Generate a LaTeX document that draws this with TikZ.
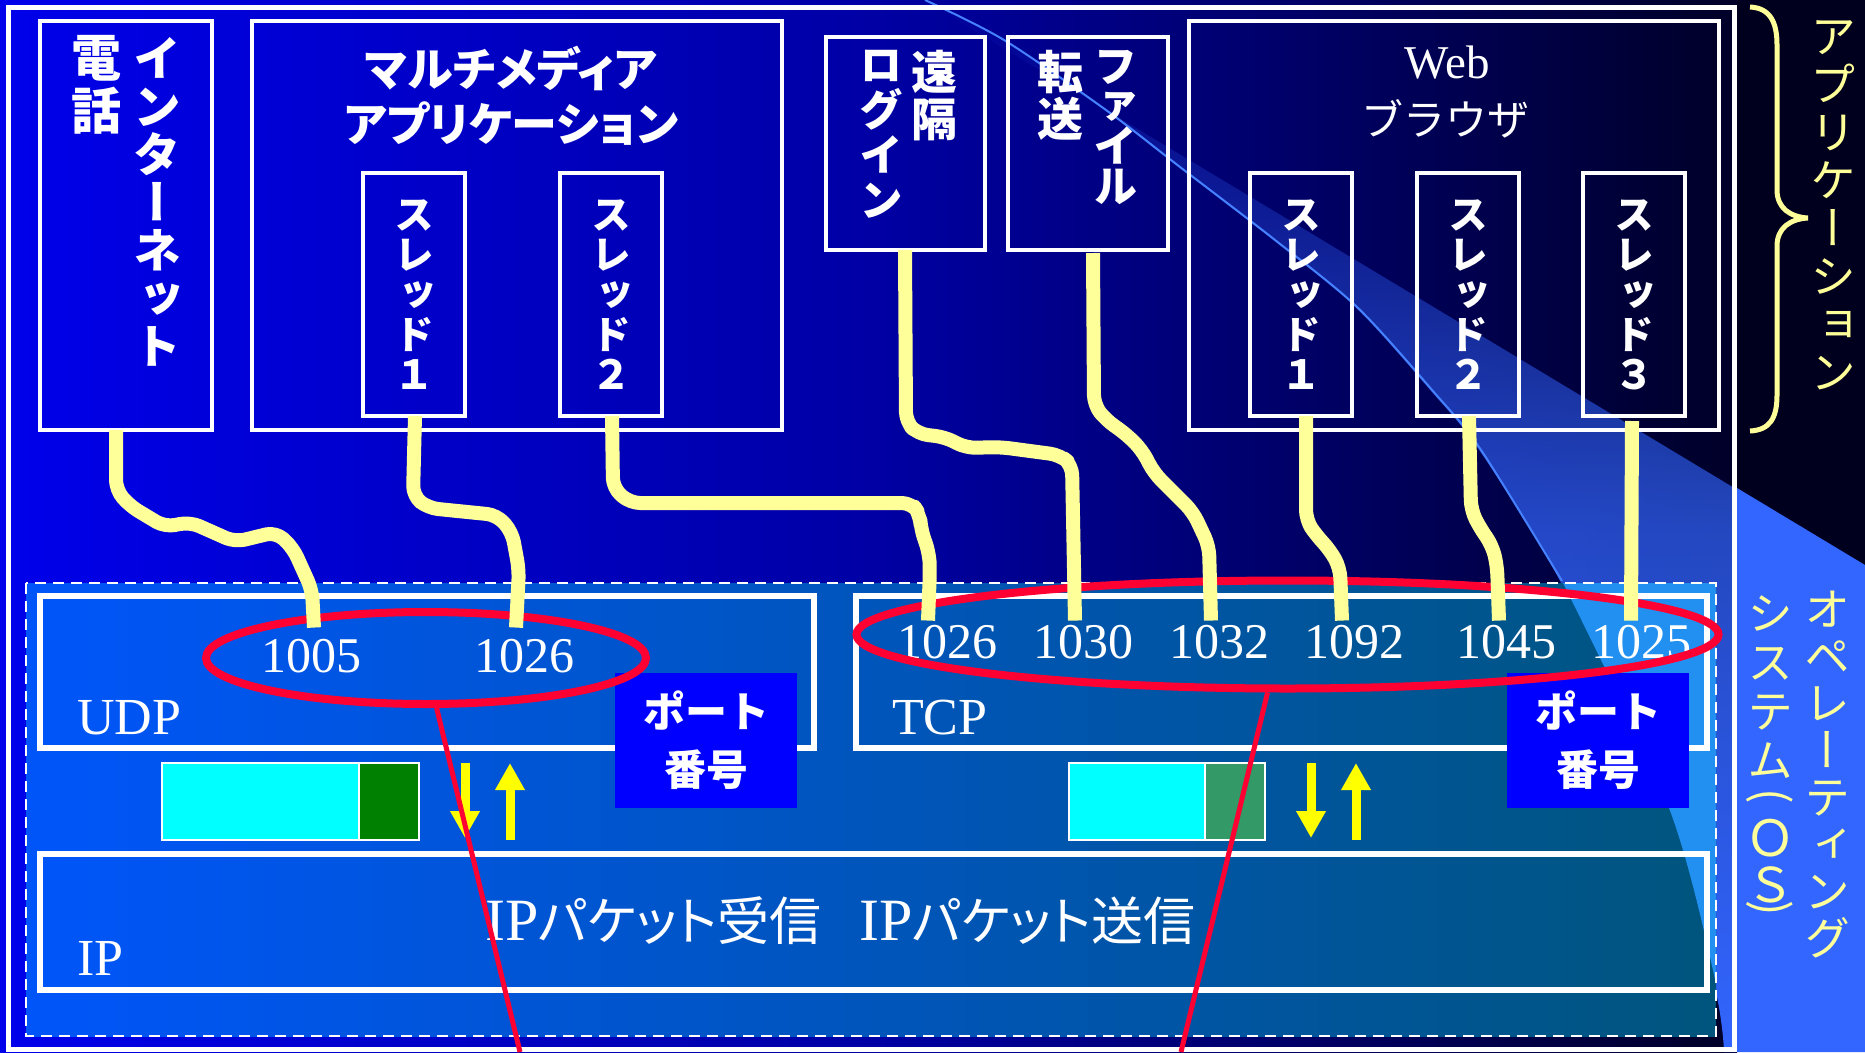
\documentclass[tikz,border=0pt]{standalone}
\usepackage{fontspec}
\usepackage{graphicx}
\setmainfont{Liberation Serif}
\newfontfamily\jp{Noto Sans CJK JP}
\newfontfamily\jpv{Noto Sans CJK JP}[RawFeature=+vert]
\newfontfamily\jpp{Noto Sans CJK JP}[RawFeature=+palt]
\usetikzlibrary{arrows.meta,shapes.geometric,fadings}
\definecolor{bgL}{RGB}{0,0,235}
\definecolor{bgM}{RGB}{0,0,165}
\definecolor{bgR}{RGB}{0,0,40}
\definecolor{rcol}{RGB}{0,0,30}
\definecolor{swc}{RGB}{51,102,255}
\definecolor{swl}{RGB}{70,130,255}
\definecolor{osL}{RGB}{0,85,250}
\definecolor{osR}{RGB}{0,85,125}
\definecolor{osS}{RGB}{34,144,240}
\definecolor{pyel}{RGB}{255,255,153}
\definecolor{byel}{RGB}{255,255,0}
\definecolor{redc}{RGB}{255,0,51}
\definecolor{portc}{RGB}{0,0,255}
\definecolor{pcyan}{RGB}{0,255,255}
\definecolor{dgreen}{RGB}{0,128,0}
\definecolor{sgreen}{RGB}{51,153,102}
\tikzfading[name=swfade, top color=transparent!100, bottom color=transparent!0, middle color=transparent!30]
\begin{document}
\begin{tikzpicture}[x=1pt,y=-1pt,
  box/.style={draw=white, line width=3.5pt, inner sep=0pt, outer sep=0pt},
  bigbox/.style={draw=white, line width=5.5pt, inner sep=0pt, outer sep=0pt},
  vt/.style={align=center, inner sep=0pt, anchor=north, text=white,
    execute at begin node={\lineskiplimit=-1000pt\relax}},
  num/.style={anchor=base, inner sep=0pt, text=white, font=\fontsize{50}{50}\selectfont},
  lbl/.style={anchor=base west, inner sep=0pt, text=white, font=\fontsize{52}{52}\selectfont},
  portbox/.style={fill=portc, minimum width=182pt, minimum height=135pt, align=center,
    inner sep=0pt, text=white, font=\jp\bfseries\fontsize{42}{58}\selectfont},
  pkt/.style={draw=white, line width=2pt, inner sep=0pt, outer sep=0pt, minimum height=77pt},
  yarrow/.style={draw=byel, line width=9pt, -{Triangle[length=27pt,width=28pt]}},
  yline/.style={draw=pyel, line width=14pt, rounded corners=10pt, line join=round},
  redell/.style={draw=redc, ellipse, inner sep=0pt},
  redline/.style={draw=redc, line width=5pt},
  thr/.style={vt, font=\jpv\bfseries\fontsize{40}{40}\selectfont},
  oschar/.style={anchor=center, inner sep=0pt, text=pyel}
]
\useasboundingbox (0,0) rectangle (1865,1052);
% background
\shade[left color=bgL, right color=bgR, middle color=bgM] (0,0) rectangle (1737,1052);
\fill[rcol] (1737,0) rectangle (1865,1052);
\begin{scope}
\clip (0,0) rectangle (1737,1052);
\fill[swc, path fading=swfade] (925,0) -- (1865,565) -- (1865,1052) -- (1726,1052) -- plot[smooth] coordinates {(1726,1052) (1717,988) (1669,808) (1562,581) (1481,450) (1432,390) (1357,307) (1275,240) (1180,167) (1106,110) (1004,40) (925,0)} -- cycle;
\end{scope}
\fill[swc] (1737,488) -- (1865,565) -- (1865,1052) -- (1737,1052) -- cycle;
\draw[swl, line width=2pt] plot[smooth] coordinates {(925,0) (1004,40) (1106,110) (1180,167) (1275,240) (1357,307) (1432,390) (1481,450) (1562,581)};
% OS region
\shade[left color=osL, right color=osR] (26,583) rectangle (1716,1036);
\begin{scope}
\clip (26,583) rectangle (1716,1036);
\fill[osS] (1562,581) -- plot[smooth] coordinates {(1562,581) (1669,808) (1717,988) (1726,1052)} -- (1865,1052) -- (1865,500) -- cycle;
\end{scope}
\draw[white, line width=2.5pt, dash pattern=on 11pt off 7pt] (26,583) rectangle (1716,1036);
% frame
\draw[white, line width=5pt] (8,7) rectangle (1734,1049);

% application boxes
\node[box, minimum width=172pt, minimum height=409pt] (inet) at (126,225.5) {};
\node[box, minimum width=530pt, minimum height=409pt] (mm) at (517,225.5) {};
\node[box, minimum width=102pt, minimum height=243pt] (mthr1) at (414,294.5) {};
\node[box, minimum width=102pt, minimum height=243pt] (mthr2) at (611,294.5) {};
\node[box, minimum width=159pt, minimum height=213pt] (rlogin) at (905.5,143.5) {};
\node[box, minimum width=160pt, minimum height=213pt] (ftp) at (1088,143.5) {};
\node[box, minimum width=530pt, minimum height=409pt] (web) at (1454,225.5) {};
\node[box, minimum width=102pt, minimum height=243pt] (wthr1) at (1301,294.5) {};
\node[box, minimum width=102pt, minimum height=243pt] (wthr2) at (1468,294.5) {};
\node[box, minimum width=102pt, minimum height=243pt] (wthr3) at (1634,294.5) {};

% box texts
\node[vt, font=\jpv\bfseries\fontsize{48}{48}\selectfont] (inetA) at (157,37) {イ\\ン\\タ\\ー\\ネ\\ッ\\ト};
\node[vt, font=\jpv\bfseries\fontsize{50}{53}\selectfont] (inetB) at (96,35) {電\\話};
\node[vt, font=\jpp\bfseries\fontsize{46}{55}\selectfont] (mmT) at (511,46) {マルチメディア\\アプリケーション};
\node[thr] (mthr1T) at (414,200) {ス\\レ\\ッ\\ド\\１};
\node[thr] (mthr2T) at (611,200) {ス\\レ\\ッ\\ド\\２};
\node[vt, font=\jpv\bfseries\fontsize{46}{47}\selectfont] (rloginA) at (934,50) {遠\\隔};
\node[vt, font=\jpv\bfseries\fontsize{44}{45}\selectfont] (rloginB) at (881,50) {ロ\\グ\\イ\\ン};
\node[vt, font=\jpv\bfseries\fontsize{44}{40}\selectfont] (ftpA) at (1115,50) {フ\\ァ\\イ\\ル};
\node[vt, font=\jpv\bfseries\fontsize{46}{47}\selectfont] (ftpB) at (1060,50) {転\\送};
\node[anchor=base, inner sep=0pt, text=white, font=\fontsize{47}{47}\selectfont] (webA) at (1447,78) {Web};
\node[anchor=base, inner sep=0pt, text=white, font=\jp\fontsize{42}{42}\selectfont] (webB) at (1445,135) {ブラウザ};
\node[thr] (wthr1T) at (1301,200) {ス\\レ\\ッ\\ド\\１};
\node[thr] (wthr2T) at (1468,200) {ス\\レ\\ッ\\ド\\２};
\node[thr] (wthr3T) at (1634,200) {ス\\レ\\ッ\\ド\\３};

% OS boxes
\node[bigbox, minimum width=774pt, minimum height=152pt] (udp) at (427,672) {};
\node[bigbox, minimum width=851pt, minimum height=152pt] (tcp) at (1281.5,672) {};
\node[bigbox, minimum width=1667pt, minimum height=136pt] (ip) at (873.5,922) {};
\node[lbl] (udpL) at (77,734) {UDP};
\node[lbl] (tcpL) at (892,734) {TCP};
\node[lbl] (ipL) at (77,975) {IP};
\node[anchor=base west, inner sep=0pt, text=white] (ipT) at (485,940) {{\fontsize{60}{60}\selectfont IP}{\jpp\fontsize{52}{52}\selectfont パケット受信}\hspace{38pt}{\fontsize{60}{60}\selectfont IP}{\jpp\fontsize{52}{52}\selectfont パケット送信}};

% port numbers
\node[num] (p1005) at (311,672) {1005};
\node[num] (p1026u) at (524,672) {1026};
\node[num] (p1026) at (947,658) {1026};
\node[num] (p1030) at (1083,658) {1030};
\node[num] (p1032) at (1219,658) {1032};
\node[num] (p1092) at (1354,658) {1092};
\node[num] (p1045) at (1506,658) {1045};
\node[num] (p1025) at (1641,658) {1025};

\node[portbox] (udpPort) at (706,740) {ポート\\番号};
\node[portbox] (tcpPort) at (1598,740) {ポート\\番号};

% packets
\node[pkt, fill=pcyan, minimum width=197pt] (udpData) at (260.5,801.5) {};
\node[pkt, fill=dgreen, minimum width=60pt] (udpHdr) at (389,801.5) {};
\node[pkt, fill=pcyan, minimum width=136pt] (tcpData) at (1137,801.5) {};
\node[pkt, fill=sgreen, minimum width=60pt] (tcpHdr) at (1235,801.5) {};

% arrows
\coordinate (ua1s) at (465,763); \coordinate (ua1e) at (465,838);
\coordinate (ua2s) at (510,840); \coordinate (ua2e) at (510,763);
\coordinate (ta1s) at (1311,763); \coordinate (ta1e) at (1311,838);
\coordinate (ta2s) at (1356,840); \coordinate (ta2e) at (1356,763);
\draw[yarrow] (ua1s) -- (ua1e);
\draw[yarrow] (ua2s) -- (ua2e);
\draw[yarrow] (ta1s) -- (ta1e);
\draw[yarrow] (ta2s) -- (ta2e);

% red ellipses
\node[redell, line width=8pt, minimum width=440pt, minimum height=92pt] (udpEll) at (426,658) {};
\node[redell, line width=8pt, minimum width=862pt, minimum height=108pt] (tcpEll) at (1287.5,634.5) {};

% yellow connectors
\draw[yline] ([xshift=-10pt]inet.south) -- (116,490) -- (130,506) -- (165,527) -- (190,522) -- (235,542) -- (276,532) -- (293,548) -- (312,590) -- ([xshift=3pt,yshift=11pt]p1005.north);
\draw[yline] ([xshift=1pt]mthr1.south) -- (413,496) -- (428,508) -- (497,515) -- (512,532) -- (519,570) -- ([xshift=-8pt,yshift=11pt]p1026u.north);
\draw[yline] ([xshift=1pt]mthr2.south) -- (613,488) -- (630,503) -- (912,503) -- (920,515) -- (921,530) -- (929,552) -- (930,570) -- ([xshift=-19pt,yshift=4pt]p1026.north);
\draw[yline] ([xshift=-0.5pt]rlogin.south) -- (906,422) -- (918,434) -- (945,437) -- (966,448) -- (1000,447) -- (1060,455) -- (1072,465) -- ([xshift=-8pt,yshift=4pt]p1030.north);
\draw[yline] ([xshift=5pt,yshift=-3pt]ftp.south) -- (1094,405) -- (1106,420) -- (1126,434) -- (1142,450) -- (1154,473) -- (1193,512) -- (1209,546) -- ([xshift=-8pt,yshift=4pt]p1032.north);
\draw[yline] ([xshift=5pt]wthr1.south) -- (1306,520) -- (1316,535) -- (1330,550) -- (1340,568) -- ([xshift=-12pt,yshift=4pt]p1092.north);
\draw[yline] ([xshift=1pt]wthr2.south) -- (1471,510) -- (1480,528) -- (1492,545) -- (1497,565) -- ([xshift=-7pt,yshift=4pt]p1045.north);
\draw[yline] ([xshift=-2pt,yshift=-5pt]wthr3.south) -- ([xshift=-10pt,yshift=4pt]p1025.north);

% red lines
\coordinate (udpEnd) at (520,1052);
\coordinate (tcpEnd) at (1181,1052);
\draw[redline] (udpEll.282) -- (udpEnd);
\draw[redline] (tcpEll.251) -- (tcpEnd);

% brace and side labels
\draw[pyel, line width=5pt] (1750,7) .. controls (1770,8) and (1777,22) .. (1777,45) -- (1777,190) .. controls (1777,208) and (1790,217) .. (1808,218) .. controls (1790,219) and (1777,228) .. (1777,246) -- (1777,395) .. controls (1777,418) and (1770,430) .. (1750,431);
\node[vt, text=pyel, font=\jpv\fontsize{46}{48}\selectfont] (appL) at (1833,20) {ア\\プ\\リ\\ケ\\ー\\シ\\ョ\\ン};
\node[vt, text=pyel, font=\jpv\fontsize{46}{47}\selectfont] (osA) at (1827,591) {オ\\ペ\\レ\\ー\\テ\\ィ\\ン\\グ};
\node[vt, text=pyel, font=\jpv\fontsize{46}{49}\selectfont] (osB) at (1770,595) {シ\\ス\\テ\\ム};
\node[oschar, font=\jp\fontsize{46}{46}\selectfont] (osP1) at (1770,800) {\rotatebox[origin=c]{-90}{(}};
\node[oschar, font=\jp\fontsize{50}{50}\selectfont] (osO) at (1770,838) {Ｏ};
\node[oschar, font=\jp\fontsize{48}{48}\selectfont] (osS) at (1770,885) {Ｓ};
\node[oschar, font=\jp\fontsize{46}{46}\selectfont] (osP2) at (1770,912) {\rotatebox[origin=c]{-90}{)}};
\end{tikzpicture}
\end{document}
